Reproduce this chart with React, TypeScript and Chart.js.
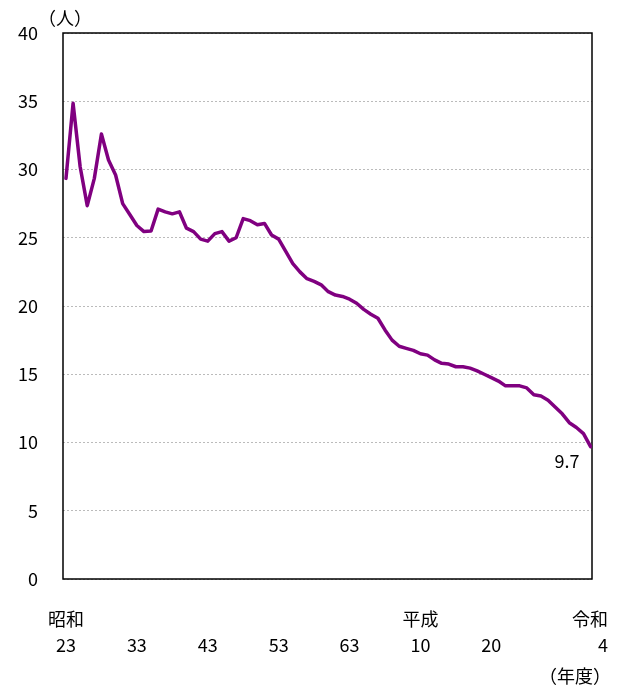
import React, { useEffect, useRef } from "react";
import { Chart, registerables } from "chart.js";

Chart.register(...registerables);

// Fiscal years (昭和23 = 1948 … 令和4 = 2022)
const years: number[] = [
  1948, 1949, 1950, 1951, 1952, 1953, 1954, 1955, 1956, 1957,
  1958, 1959, 1960, 1961, 1962, 1963, 1964, 1965, 1966, 1967,
  1968, 1969, 1970, 1971, 1972, 1973, 1974, 1975, 1976, 1977,
  1978, 1979, 1980, 1981, 1982, 1983, 1984, 1985, 1986, 1987,
  1988, 1989, 1990, 1991, 1992, 1993, 1994, 1995, 1996, 1997,
  1998, 1999, 2000, 2001, 2002, 2003, 2004, 2005, 2006, 2007,
  2008, 2009, 2010, 2011, 2012, 2013, 2014, 2015, 2016, 2017,
  2018, 2019, 2020, 2021, 2022,
];

// Values (人)
const values: number[] = [
  29.35, 34.85, 30.2, 27.35, 29.35, 32.6, 30.7, 29.6, 27.5, 26.7,
  25.9, 25.45, 25.5, 27.1, 26.9, 26.75, 26.9, 25.7, 25.45, 24.9,
  24.75, 25.3, 25.45, 24.75, 25.0, 26.4, 26.25, 25.95, 26.05, 25.2,
  24.9, 24.0, 23.1, 22.5, 22.0, 21.8, 21.55, 21.05, 20.8, 20.7,
  20.5, 20.2, 19.75, 19.4, 19.1, 18.25, 17.5, 17.05, 16.9, 16.75,
  16.5, 16.4, 16.05, 15.8, 15.75, 15.55, 15.55, 15.45, 15.25, 15.0,
  14.75, 14.5, 14.15, 14.15, 14.15, 14.0, 13.5, 13.4, 13.1, 12.6,
  12.1, 11.45, 11.1, 10.65, 9.7,
];

// X-axis tick labels
const tickYears: number[] = [1948, 1958, 1968, 1978, 1988, 1998, 2008, 2022];
const tickNumbers: string[] = ["23", "33", "43", "53", "63", "10", "20", "4"];
const tickEras: string[] = ["昭和", "", "", "", "", "平成", "", "令和"];

const yUnit = "（人）";
const xUnit = "（年度）";
const lastLabel = "9.7";

const FONT = '"Noto Sans CJK JP", "Noto Sans", sans-serif';

export default function App() {
  const ref = useRef<HTMLCanvasElement | null>(null);

  useEffect(() => {
    document.body.style.margin = "0";
    const canvas = ref.current;
    if (!canvas) return;

    const textPlugin = {
      id: "customText",
      beforeDatasetsDraw(chart: any) {
        const { ctx, chartArea } = chart;
        ctx.save();
        ctx.strokeStyle = "#000";
        ctx.lineWidth = 1.5;
        ctx.strokeRect(
          chartArea.left,
          chartArea.top,
          chartArea.right - chartArea.left,
          chartArea.bottom - chartArea.top
        );
        ctx.restore();
      },
      afterDraw(chart: any) {
        const { ctx } = chart;
        const xs = chart.scales.x;
        const ys = chart.scales.y;
        ctx.save();
        ctx.fillStyle = "#000";
        ctx.font = `18px ${FONT}`;
        ctx.textBaseline = "middle";
        tickYears.forEach((yr, i) => {
          const px = xs.getPixelForValue(yr);
          const isLast = i === tickYears.length - 1;
          ctx.textAlign = isLast ? "right" : "center";
          const tx = isLast ? 608 : px;
          if (tickEras[i]) ctx.fillText(tickEras[i], tx, 619);
          ctx.fillText(tickNumbers[i], tx, 645);
        });
        ctx.textAlign = "right";
        ctx.fillText(xUnit, 611, 676);
        // y unit
        ctx.textAlign = "left";
        ctx.fillText(yUnit, 38, 18);
        // last value label
        const lx = xs.getPixelForValue(years[years.length - 1]);
        const ly = ys.getPixelForValue(values[values.length - 1]);
        ctx.textAlign = "right";
        ctx.fillText(lastLabel, lx - 11, ly + 15);
        ctx.restore();
      },
    };

    const chart = new Chart(canvas, {
      type: "line",
      data: {
        datasets: [
          {
            data: years.map((y, i) => ({ x: y, y: values[i] })),
            borderColor: "#800080",
            backgroundColor: "#800080",
            borderWidth: 3.5,
            borderJoinStyle: "round",
            borderCapStyle: "round",
            pointRadius: 0,
            tension: 0,
            fill: false,
          },
        ],
      },
      options: {
        responsive: false,
        animation: false,
        layout: { padding: { top: 33, right: 30, bottom: 109, left: 0 } },
        plugins: {
          legend: { display: false },
          tooltip: { enabled: false },
        },
        scales: {
          x: {
            type: "linear",
            display: false,
            min: 1947.58,
            max: 2022.2,
          },
          y: {
            min: 0,
            max: 40,
            afterFit: (s: any) => {
              s.width = 63;
              s.paddingTop = 0;
              s.paddingBottom = 0;
            },
            ticks: {
              stepSize: 5,
              color: "#000",
              padding: 25,
              font: { size: 18, family: FONT },
            },
            grid: {
              color: "#bbbbbb",
              lineWidth: 1,
              drawTicks: false,
            },
            border: { display: false, dash: [2, 2] },
          },
        },
      },
      plugins: [textPlugin],
    });

    return () => chart.destroy();
  }, []);

  return <canvas ref={ref} width={622} height={688} style={{ display: "block" }} />;
}
